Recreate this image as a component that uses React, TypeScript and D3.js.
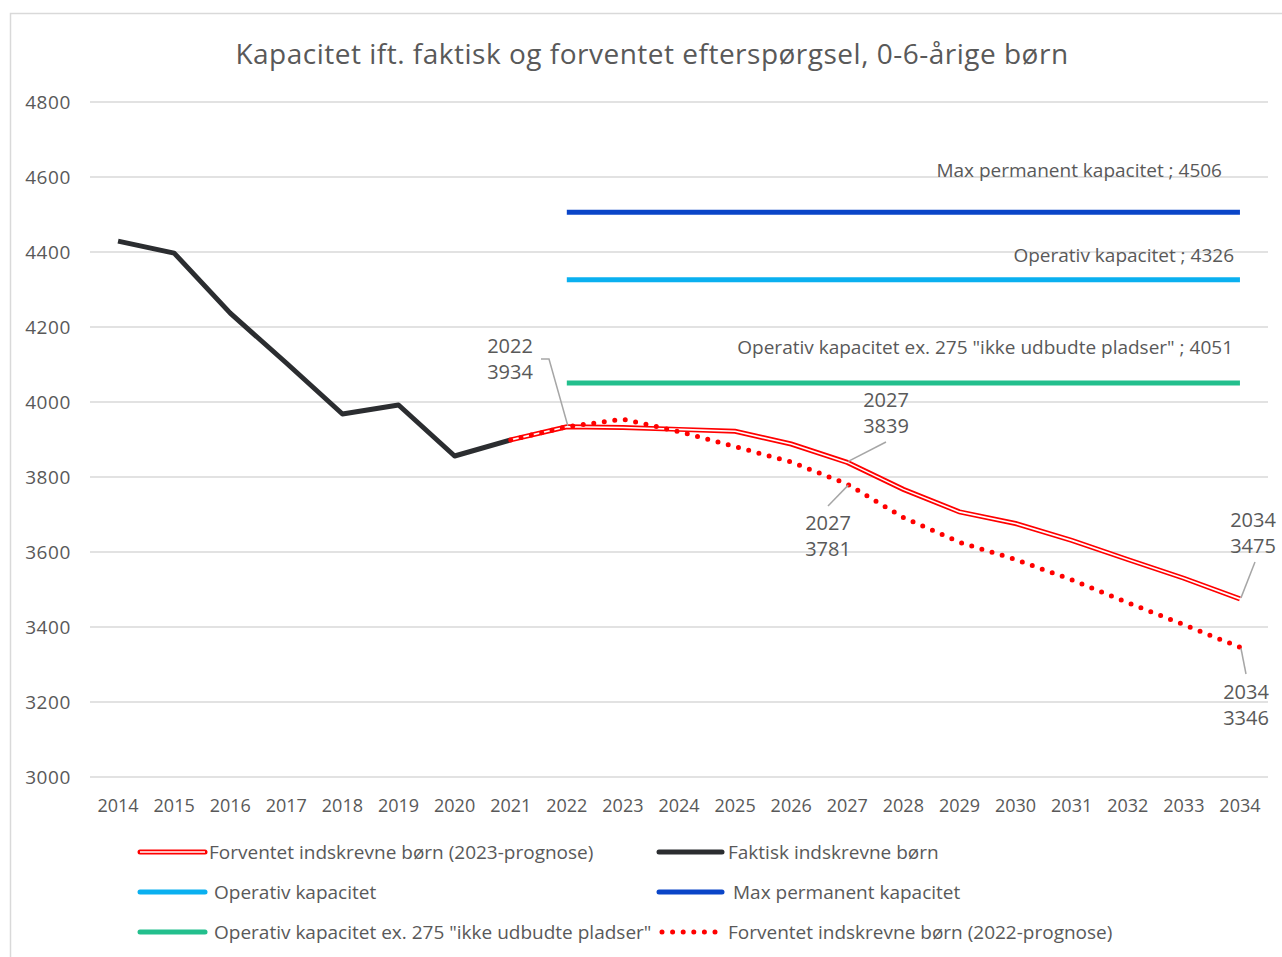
import { useRef, useEffect } from 'react';
import * as d3 from 'd3';

const years = d3.range(2014, 2035).map(String);
const yTicks = [3000, 3200, 3400, 3600, 3800, 4000, 4200, 4400, 4600, 4800];

const faktiskYears = ['2014', '2015', '2016', '2017', '2018', '2019', '2020', '2021'];
const faktisk = [4429, 4397, 4237, 4104, 3968, 3992, 3856, 3899];

const prognoseYears = ['2021', '2022', '2023', '2024', '2025', '2026', '2027', '2028', '2029', '2030', '2031', '2032', '2033', '2034'];
const prognose2023 = [3899, 3934, 3932, 3927, 3922, 3888, 3839, 3767, 3707, 3676, 3631, 3580, 3530, 3475];
const prognose2022 = [3899, 3934, 3954, 3921, 3881, 3840, 3781, 3692, 3626, 3580, 3526, 3465, 3406, 3346];

const capYears = ['2022', '2034'];
const maxPermanent = 4506;
const operativ = 4326;
const operativEx = 4051;

const TEXT = '#595959';
const FONT = '"Open Sans", sans-serif';

export default function App() {
  const svgRef = useRef<SVGSVGElement>(null);

  useEffect(() => {
    const el = svgRef.current;
    if (!el) return;
    d3.select(el).selectAll('*').remove();
    const svg = d3.select(el);

    const x = d3.scalePoint<string>().domain(years).range([90, 1268]).padding(0.5);
    const y = d3.scaleLinear().domain([3000, 4800]).range([777, 102]);

    // frame
    svg.append('rect').attr('x', 10.5).attr('y', 13.5).attr('width', 1290).attr('height', 960)
      .attr('fill', 'white').attr('stroke', '#d9d9d9').attr('stroke-width', 1.5);

    svg.append('text').attr('x', 652).attr('y', 64).attr('text-anchor', 'middle')
      .attr('font-family', FONT).attr('font-size', 28).attr('letter-spacing', 0.5).attr('fill', TEXT)
      .text('Kapacitet ift. faktisk og forventet efterspørgsel, 0-6-årige børn');

    // grid
    svg.append('g').selectAll('line').data(yTicks).join('line')
      .attr('x1', 90).attr('x2', 1268)
      .attr('y1', (d) => y(d)).attr('y2', (d) => y(d))
      .attr('stroke', '#d9d9d9').attr('stroke-width', 1.5);

    svg.append('g').selectAll('text').data(yTicks).join('text')
      .attr('x', 71).attr('y', (d) => y(d) + 7).attr('text-anchor', 'end')
      .attr('font-family', FONT).attr('font-size', 19).attr('letter-spacing', 0.6).attr('fill', TEXT)
      .text((d) => String(d));

    svg.append('g').selectAll('text').data(years).join('text')
      .attr('x', (d) => x(d)!).attr('y', 812).attr('text-anchor', 'middle')
      .attr('font-family', FONT).attr('font-size', 18).attr('fill', TEXT)
      .text((d) => d);

    // capacity lines
    const caps = [
      { v: maxPermanent, color: '#0a45c8', label: 'Max permanent kapacitet ; 4506', lx: 1222, ly: 177 },
      { v: operativ, color: '#0ab0f0', label: 'Operativ kapacitet ; 4326', lx: 1234, ly: 262 },
      { v: operativEx, color: '#23bf8d', label: 'Operativ kapacitet ex. 275 "ikke udbudte pladser" ; 4051', lx: 1233, ly: 354 },
    ];
    caps.forEach((c) => {
      svg.append('line')
        .attr('x1', x(capYears[0])!).attr('x2', x(capYears[1])!)
        .attr('y1', y(c.v)).attr('y2', y(c.v))
        .attr('stroke', c.color).attr('stroke-width', 5);
      svg.append('text').attr('x', c.lx).attr('y', c.ly).attr('text-anchor', 'end')
        .attr('font-family', FONT).attr('font-size', 19).attr('fill', TEXT).text(c.label);
    });

    const line = d3.line<[string, number]>().x((d) => x(d[0])!).y((d) => y(d[1]));

    svg.append('path').datum(faktiskYears.map((yr, i) => [yr, faktisk[i]] as [string, number]))
      .attr('d', line).attr('fill', 'none').attr('stroke', '#2b2d30').attr('stroke-width', 5)
      .attr('stroke-linejoin', 'round');

    const p23 = prognoseYears.map((yr, i) => [yr, prognose2023[i]] as [string, number]);
    svg.append('path').datum(p23).attr('d', line).attr('fill', 'none')
      .attr('stroke', '#ff0000').attr('stroke-width', 5);
    svg.append('path').datum(p23).attr('d', line).attr('fill', 'none')
      .attr('stroke', 'white').attr('stroke-width', 1.6);

    const p22 = prognoseYears.map((yr, i) => [yr, prognose2022[i]] as [string, number]);
    svg.append('path').datum(p22).attr('d', line).attr('fill', 'none')
      .attr('stroke', '#ff0000').attr('stroke-width', 5)
      .attr('stroke-linecap', 'round').attr('stroke-dasharray', '0 10.6');

    // data labels with leader lines
    const labels = [
      { yr: '2022', v: prognose2023[1], tx: 510, ty: 353, pts: [[541, 359], [549, 359]] },
      { yr: '2027', v: prognose2023[6], tx: 886, ty: 407, pts: [[886, 442]] },
      { yr: '2027', v: prognose2022[6], tx: 828, ty: 530, pts: [[828, 506]] },
      { yr: '2034', v: prognose2023[13], tx: 1253, ty: 527, pts: [[1255, 562]] },
      { yr: '2034', v: prognose2022[13], tx: 1246, ty: 699, pts: [[1246, 674]] },
    ];
    labels.forEach((l) => {
      const px = x(l.yr)!;
      const py = y(l.v);
      const pts = [...l.pts, [px + 1, py + (l.pts[0][1] > py ? 1 : -1)]];
      svg.append('polyline').attr('points', pts.map((p) => p.join(',')).join(' '))
        .attr('fill', 'none').attr('stroke', '#a6a6a6').attr('stroke-width', 1.5);
      const t = svg.append('text').attr('text-anchor', 'middle')
        .attr('font-family', FONT).attr('font-size', 20).attr('fill', TEXT);
      t.append('tspan').attr('x', l.tx).attr('y', l.ty).text(l.yr);
      t.append('tspan').attr('x', l.tx).attr('y', l.ty + 26).text(String(l.v));
    });

    // legend
    const legend = [
      { kind: 'double', color: '#ff0000', label: 'Forventet indskrevne børn (2023-prognose)', sx: 140, ex: 205, tx: 209, y: 852 },
      { kind: 'solid', color: '#2b2d30', label: 'Faktisk indskrevne børn', sx: 659, ex: 722, tx: 728, y: 852 },
      { kind: 'solid', color: '#0ab0f0', label: 'Operativ kapacitet', sx: 140, ex: 205, tx: 214, y: 892 },
      { kind: 'solid', color: '#0a45c8', label: 'Max permanent kapacitet', sx: 659, ex: 722, tx: 733, y: 892 },
      { kind: 'solid', color: '#23bf8d', label: 'Operativ kapacitet ex. 275 "ikke udbudte pladser"', sx: 140, ex: 205, tx: 214, y: 932 },
      { kind: 'dot', color: '#ff0000', label: 'Forventet indskrevne børn (2022-prognose)', sx: 662, ex: 722, tx: 728, y: 932 },
    ];
    legend.forEach((g) => {
      const ln = svg.append('line').attr('x1', g.sx).attr('x2', g.ex).attr('y1', g.y).attr('y2', g.y)
        .attr('stroke', g.color).attr('stroke-width', 5).attr('stroke-linecap', 'round');
      if (g.kind === 'dot') ln.attr('stroke-dasharray', '0 10.6');
      if (g.kind === 'double') {
        svg.append('line').attr('x1', g.sx).attr('x2', g.ex).attr('y1', g.y).attr('y2', g.y)
          .attr('stroke', 'white').attr('stroke-width', 1.6);
      }
      svg.append('text').attr('x', g.tx).attr('y', g.y + 7)
        .attr('font-family', FONT).attr('font-size', 19).attr('fill', TEXT).text(g.label);
    });
  }, []);

  return <svg ref={svgRef} width={1282} height={957} style={{ display: 'block', position: 'absolute', left: 0, top: 0 }} />;
}
